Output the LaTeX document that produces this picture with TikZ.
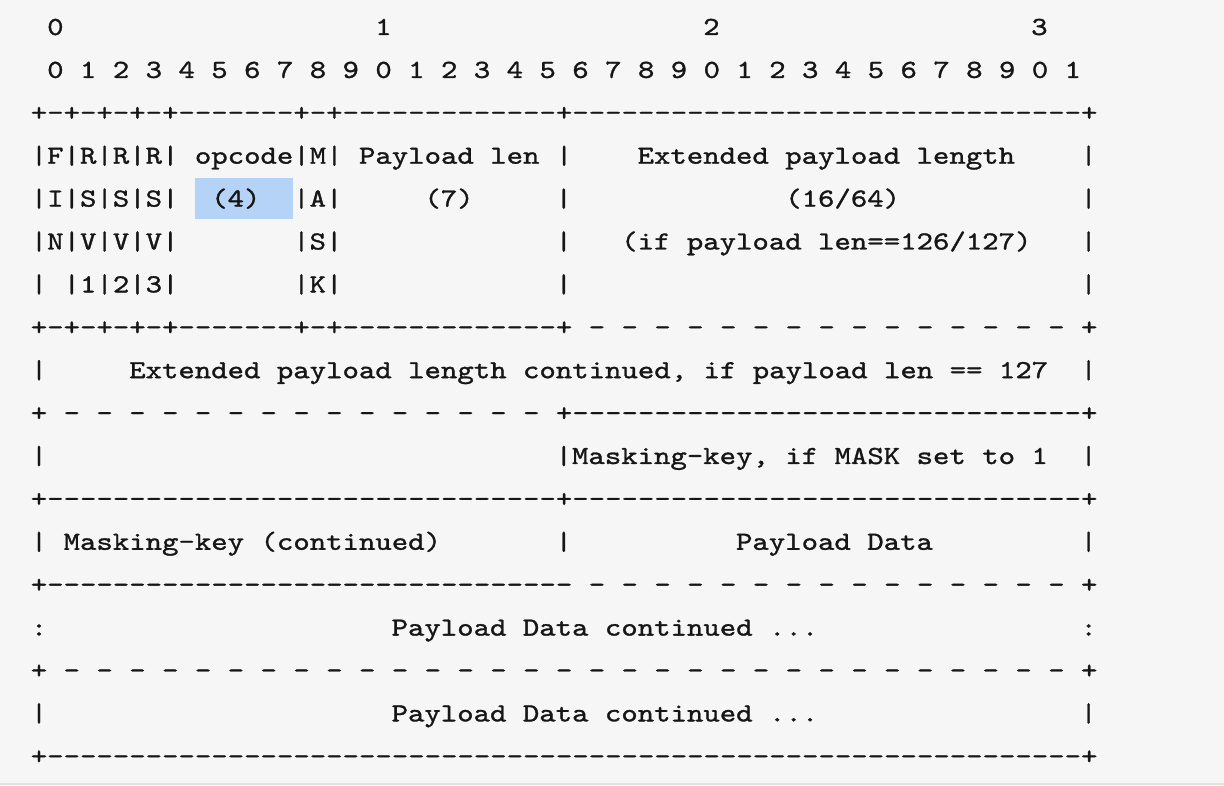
\documentclass[tikz,border=0pt]{standalone}
\usepackage{fontspec}
\setmonofont[FakeStretch=1.2,FakeBold=1.2]{lmmono10-regular.otf}
\ExplSyntaxOn
\cs_new:Npn \Rep #1#2 { \prg_replicate:nn {#1} {#2} }
\ExplSyntaxOff
\definecolor{bgc}{HTML}{F6F6F6}
\definecolor{ink}{HTML}{161616}
\definecolor{hl}{HTML}{B5D3F7}
\definecolor{edge}{HTML}{E2E2E2}
\tikzset{txt/.style={anchor=base west, inner sep=0pt, outer sep=0pt, text=ink,
  font=\fontsize{7.407}{9}\selectfont\ttfamily\frenchspacing}}
\newcommand\Seg[3]{\node[txt] (t#1c#2) at ({30.8+16.4*#2},{35+42.9*#1}) {#3};}
\begin{document}
\begin{tikzpicture}[x=0.01cm,y=-0.01cm]
\fill[bgc] (0,0) rectangle (1224,786);
\useasboundingbox (0,0) rectangle (1224,786);
\draw[edge, line width=0.6pt] (0,784) -- (1224,784);
\fill[hl] (195,178) rectangle (293,219);
% row 0
\Seg{0}{1}{0}\Seg{0}{21}{1}\Seg{0}{41}{2}\Seg{0}{61}{3}
% row 1
\Seg{1}{1}{0 1 2 3 4 5 6 7 8 9 0 1 2 3 4 5 6 7 8 9 0 1 2 3 4 5 6 7 8 9 0 1}
% row 2
\Seg{2}{0}{+-+-+-+-+\Rep{7}{-}+-+\Rep{13}{-}+\Rep{31}{-}+}
% row 3
\Seg{3}{0}{|F|R|R|R| opcode|M| Payload len |}
\Seg{3}{37}{Extended payload length}\Seg{3}{64}{|}
% row 4
\Seg{4}{0}{|I|S|S|S|}\Seg{4}{11}{(4)}\Seg{4}{16}{|A|}\Seg{4}{24}{(7)}
\Seg{4}{32}{|}\Seg{4}{46}{(16/64)}\Seg{4}{64}{|}
% row 5
\Seg{5}{0}{|N|V|V|V|}\Seg{5}{16}{|S|}\Seg{5}{32}{|}
\Seg{5}{36}{(if payload len==126/127)}\Seg{5}{64}{|}
% row 6
\Seg{6}{0}{|~|1|2|3|}\Seg{6}{16}{|K|}\Seg{6}{32}{|}\Seg{6}{64}{|}
% row 7
\Seg{7}{0}{+-+-+-+-+\Rep{7}{-}+-+\Rep{13}{-}+\Rep{15}{~-}~+}
% row 8
\Seg{8}{0}{|}\Seg{8}{6}{Extended payload length continued, if payload len == 127}\Seg{8}{64}{|}
% row 9
\Seg{9}{0}{+\Rep{15}{~-}~+\Rep{31}{-}+}
% row 10
\Seg{10}{0}{|}\Seg{10}{32}{|Masking-key, if MASK set to 1}\Seg{10}{64}{|}
% row 11
\Seg{11}{0}{+\Rep{31}{-}+\Rep{31}{-}+}
% row 12
\Seg{12}{0}{| Masking-key (continued)}\Seg{12}{32}{|}\Seg{12}{43}{Payload Data}\Seg{12}{64}{|}
% row 13
\Seg{13}{0}{+\Rep{32}{-}\Rep{15}{~-}~+}
% row 14
\Seg{14}{0}{:}\Seg{14}{22}{Payload Data continued ...}\Seg{14}{64}{:}
% row 15
\Seg{15}{0}{+\Rep{31}{~-}~+}
% row 16
\Seg{16}{0}{|}\Seg{16}{22}{Payload Data continued ...}\Seg{16}{64}{|}
% row 17
\Seg{17}{0}{+\Rep{63}{-}+}
\end{tikzpicture}
\end{document}
